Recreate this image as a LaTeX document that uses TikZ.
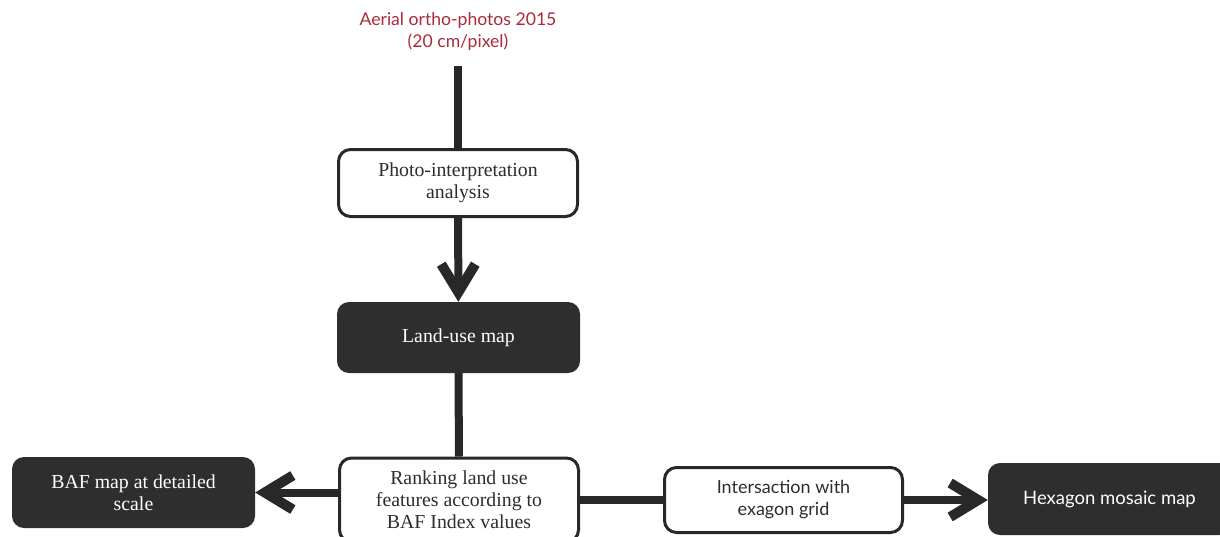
\documentclass[tikz,border=0pt]{standalone}
\usepackage{fontspec}
\setmainfont{Liberation Serif}
\newfontfamily\sansf{Lato}
\usetikzlibrary{arrows.meta}
\definecolor{ink}{RGB}{40,40,40}
\definecolor{boxdark}{RGB}{46,46,46}
\definecolor{txt}{RGB}{45,45,45}
\definecolor{titlered}{RGB}{172,42,58}
\begin{document}
\begin{tikzpicture}[x=1pt,y=-1pt,
  basebox/.style={rounded corners=12pt, align=center, inner sep=0pt},
  lightbox/.style={basebox, draw=ink, line width=3pt, fill=white, text=txt,
    font=\fontsize{19.8}{22}\selectfont},
  darkbox/.style={basebox, fill=boxdark, text=white,
    font=\fontsize{19.8}{22}\selectfont},
  lightsans/.style={lightbox, font=\sansf\fontsize{18}{22}\selectfont},
  darksans/.style={darkbox, font=\sansf\fontsize{18.5}{22}\selectfont},
  srctext/.style={align=center, inner sep=0pt, text=titlered,
    font=\sansf\fontsize{17.6}{22}\selectfont},
  conn/.style={draw=ink, line width=8pt},
  chev/.style={conn, -{Straight Barb[length=28pt,width=34pt,line width=10pt]}}]
\useasboundingbox (0,0) rectangle (1220,536);

\node[srctext] (src) at (458,32) {Aerial ortho-photos 2015\\(20 cm/pixel)};
\node[lightbox, minimum width=239pt, minimum height=67pt] (photo) at (458,183) {Photo-interpretation\\analysis};
\node[darkbox, minimum width=243pt, minimum height=71pt] (land) at (458.5,337.5) {Land-use map};
\node[lightbox, minimum width=239pt, minimum height=84pt] (rank) at (459,500) {Ranking land use\\features according to\\BAF Index values};
\node[darkbox, minimum width=243pt, minimum height=71pt] (baf) at (133.5,492.5) {BAF map at detailed\\scale};
\node[lightsans, minimum width=238pt, minimum height=65pt] (inter) at (783.5,500) {Intersaction with\\exagon grid};
\node[darksans, minimum width=243pt, minimum height=72pt] (hex) at (1109.5,499) {Hexagon mosaic map};

\draw[conn, shorten <=15pt] (src) -- (photo);
\draw[chev] (photo) -- (land);
\draw[conn] (land) -- (rank);
\draw[chev] (rank.west |- baf.east) -- (baf.east);
\draw[conn] (rank.east |- inter.west) -- (inter.west);
\draw[chev] (inter.east) -- (inter.east -| hex.west);
\end{tikzpicture}
\end{document}
